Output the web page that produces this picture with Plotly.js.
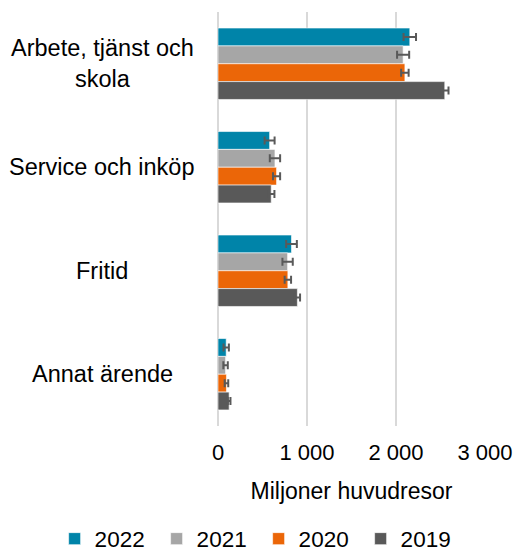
<!DOCTYPE html>
<html>
<head>
<meta charset="utf-8">
<script src="https://cdn.plot.ly/plotly-3.0.1.min.js"></script>
<style>html,body{margin:0;padding:0;background:#fff;}#chart{width:517px;height:554px;}</style>
</head>
<body>
<div id="chart"></div>
<script>
const categories = ["Arbete, tjänst och<br>skola", "Service och inköp", "Fritid", "Annat ärende"];
const seriesNames = ["2022", "2021", "2020", "2019"];
const values2022 = [2155, 580, 826, 92];
const values2021 = [2080, 640, 782, 85];
const values2020 = [2100, 658, 785, 95];
const values2019 = [2548, 598, 892, 125];
const errors2022 = [70, 56, 60, 30];
const errors2021 = [68, 58, 58, 25];
const errors2020 = [42, 40, 36, 20];
const errors2019 = [42, 36, 30, 15];
const tickValues = [0, 1000, 2000, 3000];
const tickLabels = ["0", "1 000", "2 000", "3 000"];
const colors = ["#0084A9", "#A6A6A6", "#EB6608", "#595959"];

const allValues = [values2022, values2021, values2020, values2019];
const allErrors = [errors2022, errors2021, errors2020, errors2019];
const FONT = "Liberation Sans, Arial, sans-serif";

const traces = seriesNames.map((name, i) => ({
  type: "bar",
  orientation: "h",
  name: name,
  y: categories,
  x: allValues[i],
  marker: {color: colors[i], line: {color: "#ffffff", width: 0.6}},
  error_x: {type: "data", array: allErrors[i], visible: true, color: "#595959", thickness: 2, width: 4},
  hoverinfo: "x+name"
}));

const annotations = categories.map(c => ({
  xref: "paper", yref: "y", x: (102 - 218) / 268, y: c,
  text: c, showarrow: false, xanchor: "center", yanchor: "middle", align: "center",
  font: {family: FONT, size: 23.5, color: "#000"}
}));

const layout = {
  width: 517, height: 554,
  margin: {l: 218, r: 32, t: 12, b: 128, autoexpand: false},
  paper_bgcolor: "#fff", plot_bgcolor: "#fff",
  font: {family: FONT, size: 22, color: "#000"},
  barmode: "group",
  bargap: 0.31,
  bargroupgap: 0,
  showlegend: true,
  legend: {orientation: "h", xref: "paper", x: (54 - 218) / 268, xanchor: "left",
           yref: "paper", y: -(539 - 426) / 414, yanchor: "middle",
           font: {family: FONT, size: 22.5, color: "#000"}, traceorder: "normal", itemwidth: 30,
           entrywidth: 57, entrywidthmode: "pixels"},
  xaxis: {
    range: [0, 3000], tickvals: tickValues, ticktext: tickLabels,
    showgrid: true, gridcolor: "#d9d9d9", gridwidth: 1.5,
    zeroline: true, zerolinecolor: "#d9d9d9", zerolinewidth: 1.5,
    showline: false, ticks: "outside", ticklen: 7, tickcolor: "rgba(0,0,0,0)", fixedrange: true,
    automargin: false,
    tickfont: {family: FONT, size: 22, color: "#000"},
    title: {text: "Miljoner huvudresor", font: {family: FONT, size: 23, color: "#000"}, standoff: 18}
  },
  yaxis: {
    type: "category", autorange: "reversed", showticklabels: false, automargin: false,
    showgrid: false, zeroline: false, showline: false, ticks: "", fixedrange: true
  },
  annotations: annotations
};

Plotly.newPlot("chart", traces, layout, {displayModeBar: false, staticPlot: true});
</script>
</body>
</html>
